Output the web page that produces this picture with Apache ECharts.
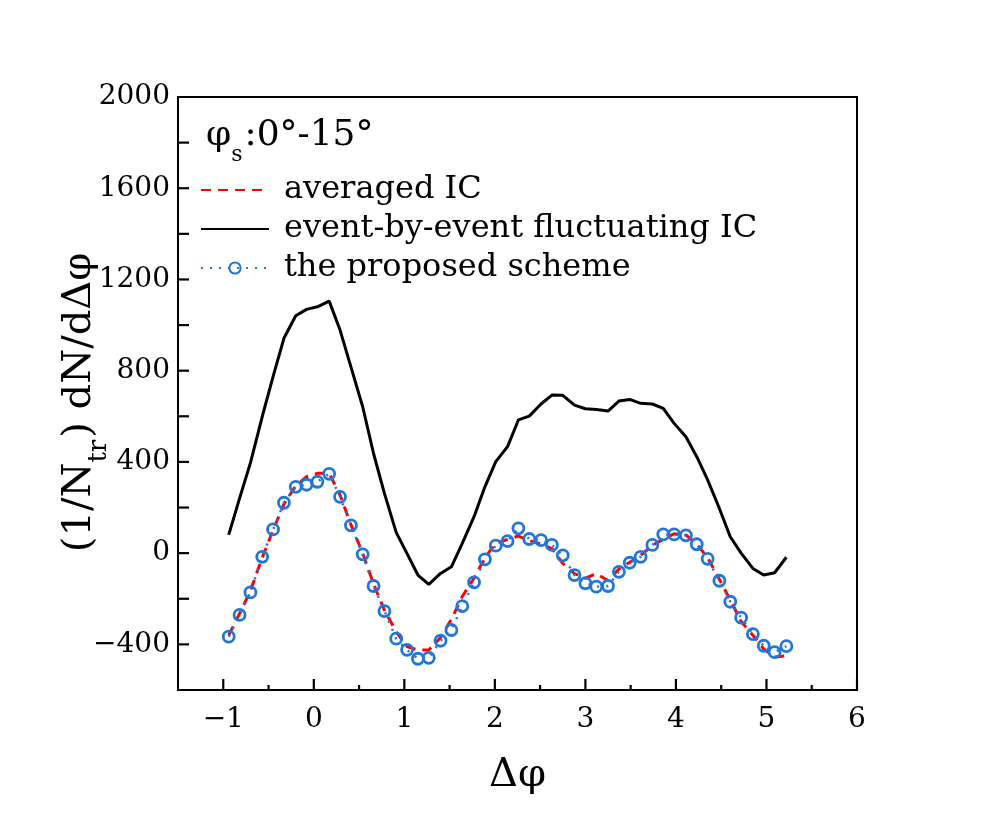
<!DOCTYPE html>
<html>
<head>
<meta charset="utf-8">
<script src="https://cdn.jsdelivr.net/npm/echarts@6/dist/echarts.min.js"></script>
<style>
  html, body { margin: 0; padding: 0; background: #fff; }
  #chart { width: 997px; height: 830px; }
</style>
</head>
<body>
<div id="chart"></div>
<script>
// Δφ bin centres
var dphi = [-0.94, -0.82, -0.70, -0.57, -0.45, -0.33, -0.20, -0.08, 0.04, 0.17,
  0.29, 0.41, 0.54, 0.66, 0.78, 0.91, 1.03, 1.15, 1.27, 1.40,
  1.52, 1.64, 1.77, 1.89, 2.01, 2.14, 2.26, 2.38, 2.51, 2.63,
  2.75, 2.88, 3.00, 3.12, 3.25, 3.37, 3.49, 3.61, 3.74, 3.86,
  3.98, 4.11, 4.23, 4.35, 4.48, 4.60, 4.72, 4.85, 4.97, 5.09, 5.22];

// averaged IC (red dashed)
var averagedIC = [-360, -265, -165, -20, 100, 215, 295, 335, 350, 350,
  255, 125, 0, -135, -250, -345, -410, -425, -425, -370,
  -290, -190, -110, -20, 45, 60, 75, 55, 40, 20,
  -45, -90, -110, -90, -120, -70, -40, -10, 35, 60,
  85, 80, 40, -20, -115, -205, -300, -360, -420, -455, -450];

// event-by-event fluctuating IC (black)
var ebeIC = [80, 240, 396, 598, 774, 942, 1041, 1069, 1080, 1105,
  978, 817, 642, 437, 262, 91, -2, -96, -137, -89,
  -60, 43, 160, 291, 401, 467, 584, 601, 654, 693,
  692, 649, 633, 630, 623, 667, 674, 657, 654, 635,
  569, 510, 423, 321, 196, 72, 0, -67, -96, -86, -18];

// the proposed scheme (blue circles)
var proposed = [-366, -271, -172, -16, 104, 221, 291, 300, 313, 348,
  247, 122, -5, -144, -254, -375, -424, -463, -459, -384,
  -337, -232, -128, -27, 33, 53, 109, 62, 57, 36,
  -10, -96, -132, -147, -144, -82, -42, -16, 36, 82,
  82, 78, 39, -25, -121, -213, -283, -355, -406, -434, -408];

// tick positions
var xMajor = [-1, 0, 1, 2, 3, 4, 5, 6];
var xMinor = [-0.5, 0.5, 1.5, 2.5, 3.5, 4.5, 5.5];
var yTicks = [-400, -200, 0, 200, 400, 600, 800, 1000, 1200, 1400, 1600, 1800];

var X_MIN = -1.5, X_MAX = 6, Y_MIN = -600, Y_MAX = 2000;
var FONT = 'DejaVu Serif';
var BLUE = '#1f77dd';

function pairs(ys) {
  return dphi.map(function (x, i) { return [x, ys[i]]; });
}
function minus(v) {
  return String(v).replace('-', '\u2212');
}

// inward tick marks, placed through the cartesian scale
function tickSeries(data, dx, dy) {
  return {
    type: 'custom',
    silent: true, clip: false, z: 6,
    data: data,
    renderItem: function (params, api) {
      var p = api.coord([api.value(0), api.value(1)]);
      return {
        type: 'line',
        shape: { x1: p[0], y1: p[1], x2: p[0] + dx, y2: p[1] + dy },
        style: { stroke: '#000', lineWidth: 2.2 }
      };
    }
  };
}

var chart = echarts.init(document.getElementById('chart'));

var option = {
  animation: false,
  backgroundColor: '#fff',
  grid: {
    left: 178, right: 140, top: 97, bottom: 140,
    show: true, borderColor: '#000', borderWidth: 2,
    backgroundColor: 'transparent'
  },
  legend: {
    orient: 'vertical',
    left: 195, top: 169,
    itemWidth: 68, itemHeight: 14, itemGap: 7,
    textStyle: { fontFamily: FONT, fontSize: 32, color: '#000', padding: [0, 0, 0, 10] },
    data: [
      { name: 'averaged IC', itemStyle: { opacity: 0 } },
      { name: 'event-by-event fluctuating IC', itemStyle: { opacity: 0 } },
      { name: 'the proposed scheme' }
    ]
  },
  graphic: [{
    type: 'text',
    left: 206, top: 118,
    style: {
      text: '{a|φ}{s|s}{a|:0°-15°}',
      rich: {
        a: { fontFamily: FONT, fontSize: 36, fill: '#000', verticalAlign: 'bottom', lineHeight: 44 },
        s: { fontFamily: FONT, fontSize: 22, fill: '#000', verticalAlign: 'bottom', lineHeight: 44, padding: [0, 2, -12, 0] }
      }
    }
  }],
  xAxis: {
    type: 'value', min: X_MIN, max: X_MAX,
    name: 'Δφ', nameLocation: 'middle', nameGap: 66, nameMoveOverlap: false,
    nameTextStyle: { fontFamily: FONT, fontSize: 40, color: '#000' },
    axisLine: { show: true, onZero: false, lineStyle: { color: '#000', width: 2 } },
    axisTick: { show: false },
    axisLabel: {
      customValues: xMajor,
      margin: 16, fontFamily: FONT, fontSize: 28, color: '#000',
      formatter: minus
    },
    splitLine: { show: false }
  },
  yAxis: {
    type: 'value', min: Y_MIN, max: Y_MAX, interval: 200,
    name: '{a|(1/N}{s|tr}{a|) dN/dΔφ}',
    nameLocation: 'middle', nameGap: 78, nameRotate: 90, nameMoveOverlap: false,
    nameTextStyle: {
      padding: [0, 18, 0, 0],
      rich: {
        a: { fontFamily: FONT, fontSize: 40, color: '#000', verticalAlign: 'bottom', lineHeight: 48 },
        s: { fontFamily: FONT, fontSize: 26, color: '#000', verticalAlign: 'bottom', lineHeight: 48, padding: [0, 2, -12, 0] }
      }
    },
    axisLine: { show: true, onZero: false, lineStyle: { color: '#000', width: 2 } },
    axisTick: { show: false },
    axisLabel: {
      margin: 8, fontFamily: FONT, fontSize: 28, color: '#000',
      formatter: function (v) { return v % 400 === 0 ? minus(v) : ''; }
    },
    splitLine: { show: false }
  },
  series: [{
    name: 'event-by-event fluctuating IC',
    type: 'line',
    data: pairs(ebeIC),
    showSymbol: false, symbol: 'none',
    lineStyle: { color: '#000', width: 3 },
    itemStyle: { color: '#000' },
    z: 2
  }, {
    name: 'averaged IC',
    type: 'line',
    data: pairs(averagedIC),
    showSymbol: false, symbol: 'none',
    lineStyle: { color: '#ff0000', width: 3, type: [10, 7] },
    itemStyle: { color: '#ff0000' },
    z: 3
  }, {
    name: 'the proposed scheme',
    type: 'line',
    data: pairs(proposed),
    symbol: 'circle', symbolSize: 11,
    lineStyle: { color: BLUE, width: 2.5, type: [2, 7] },
    itemStyle: { color: 'rgba(0,0,0,0)', borderColor: BLUE, borderWidth: 2.8 },
    z: 4
  },
  tickSeries(xMajor.map(function (v) { return [v, Y_MIN]; }), 0, -11),
  tickSeries(xMinor.map(function (v) { return [v, Y_MIN]; }), 0, -5),
  tickSeries(yTicks.map(function (v) { return [X_MIN, v]; }), 11, 0)]
};

chart.setOption(option);
</script>
</body>
</html>
